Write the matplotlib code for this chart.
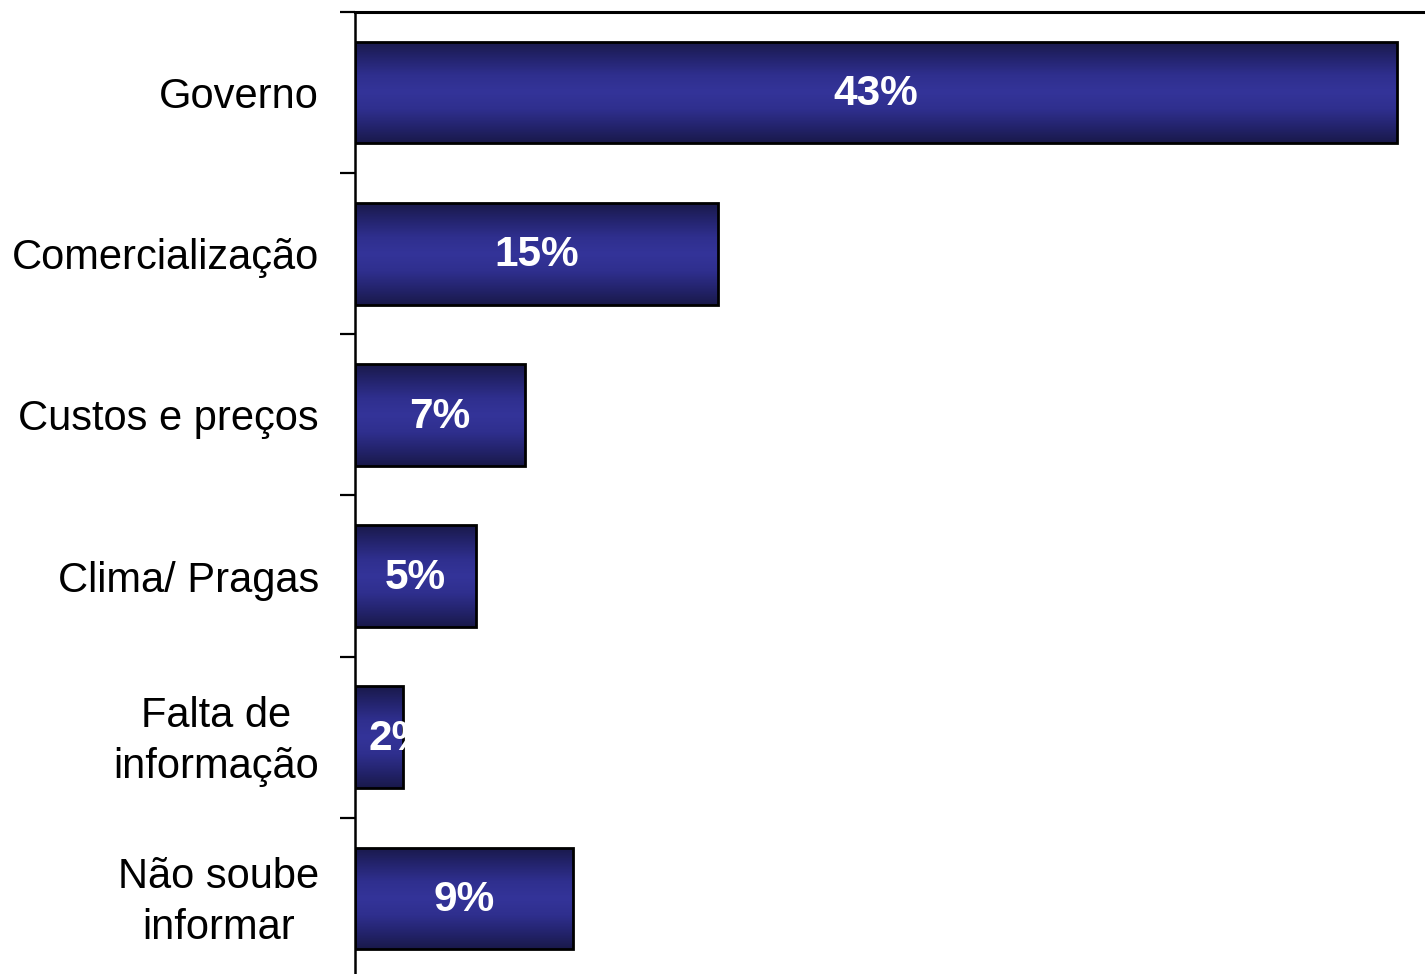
import matplotlib

matplotlib.use("Agg", force=True)

import matplotlib.pyplot as plt  # noqa: E402
import matplotlib.transforms as mtransforms  # noqa: E402
import numpy as np  # noqa: E402
from matplotlib.colors import LinearSegmentedColormap  # noqa: E402

categories = [
    "Governo",
    "Comercialização",
    "Custos e preços",
    "Clima/ Pragas",
    "Falta de\ninformação",
    "Não soube\ninformar",
]
values = [43, 15, 7, 5, 2, 9]
value_labels = ["43%", "15%", "7%", "5%", "2%", "9%"]

plt.rcParams["font.family"] = ["Liberation Sans", "DejaVu Sans"]

# dark edge -> bright middle -> dark edge, like a cylinder shading
bar_cmap = LinearSegmentedColormap.from_list(
    "navy_tube",
    ["#19194a", "#24246e", "#2f2f8e", "#343499", "#2f2f8e", "#24246e", "#19194a"],
)

fig = plt.figure(figsize=(14.25, 9.74), dpi=100)
ax = fig.add_axes([0.2491, -0.00513, 0.7509, 0.99281])

bar_h = 0.63
y_pos = np.arange(len(categories))
bars = ax.barh(y_pos, values, height=bar_h, color="none",
               edgecolor="black", linewidth=2, zorder=3)

grad = np.linspace(0, 1, 256).reshape(-1, 1)
for bar, v, lab in zip(bars, values, value_labels):
    y0 = bar.get_y()
    im = ax.imshow(grad, cmap=bar_cmap, aspect="auto", interpolation="bicubic",
                   extent=(0, v, y0 + bar_h, y0), zorder=2)
    im.set_clip_path(bar)
    # keep small labels off the axis line, clip them to the bar itself
    tx = max(v / 2, 1.82)
    t = ax.text(tx, y0 + bar_h / 2 + 0.01, lab, ha="center", va="center",
                color="white", fontsize=30.5, fontweight="bold", zorder=4)
    t.set_clip_path(bar)

ax.set_xlim(0, 44.16)
ax.set_ylim(len(categories) - 0.5, -0.5)

ax.set_yticks(y_pos)
ax.set_yticklabels(categories, fontsize=30, multialignment="center",
                   linespacing=1.35)
ax.set_yticks(np.arange(-0.5, len(categories)), minor=True)
ax.tick_params(axis="y", which="major", length=0, pad=26)
ax.tick_params(axis="y", which="minor", length=11, width=1.6, direction="out")
ax.set_xticks([])

# two-line labels sit a little high, centred on the bar
nudge = mtransforms.ScaledTranslation(0, 6 / 100, fig.dpi_scale_trans)
for lbl in ax.get_yticklabels():
    if "\n" in lbl.get_text():
        lbl.set_transform(lbl.get_transform() + nudge)

ax.spines["left"].set_linewidth(1.8)
ax.spines["top"].set_linewidth(2.2)
ax.spines["right"].set_visible(False)
ax.spines["bottom"].set_visible(False)

fig.savefig("out.png", dpi=100)
plt.close(fig)
